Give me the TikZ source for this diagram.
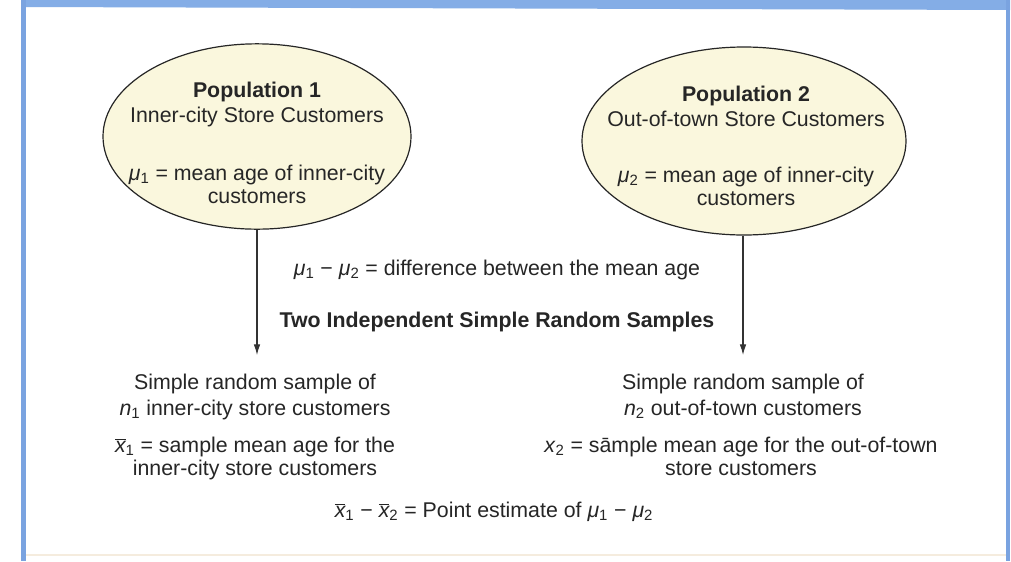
\documentclass[tikz,border=0pt]{standalone}
\usepackage{fontspec}
\setmainfont{Liberation Sans}
\usetikzlibrary{shapes.geometric,arrows.meta}

\definecolor{popfill}{RGB}{250,247,221}
\definecolor{frameblue}{RGB}{122,163,224}
\definecolor{bandblue}{RGB}{132,173,230}
\definecolor{txt}{RGB}{38,38,38}
\definecolor{rule}{RGB}{245,236,222}

% symbols in the sans text font
\newcommand{\gmu}[1]{\textit{μ}\textsubscript{#1}}
\newcommand{\xbar}[1]{$\overline{\mbox{\itshape x}}$\textsubscript{#1}}
\newcommand{\xvar}[1]{\textit{x}\textsubscript{#1}}
\newcommand{\nvar}[1]{\textit{n}\textsubscript{#1}}

\begin{document}
\begin{tikzpicture}[x=0.75pt,y=-0.75pt,
  font=\fontsize{16}{19}\selectfont,
  pop/.style={ellipse, draw=black!85, line width=0.9pt, fill=popfill, inner sep=0pt},
  lbl/.style={anchor=base, inner sep=0pt, text=txt},
  head/.style={lbl, font=\fontsize{16}{19}\selectfont\bfseries},
  link/.style={draw=black!80, line width=0.9pt, -{Latex[length=8pt,width=5pt]}}]
\useasboundingbox (0,0) rectangle (1011,561);
\fill[white] (0,0) rectangle (1011,561);

% page frame
\fill[bandblue] (22,0) -- (1010,0) -- (1010,10) -- (22,7) -- cycle;
\fill[frameblue] (21,0) rectangle (26,561);
\fill[frameblue] (1006,0) rectangle (1010,561);
\draw[rule, line width=1pt] (26,555) -- (1006,555);

% populations
\node[pop, minimum width=231pt, minimum height=139pt] (pop1) at (257,136.5) {};
\node[pop, minimum width=243pt, minimum height=141pt] (pop2) at (744,141) {};

\node[head] (p1title) at (257,97) {Population 1};
\node[lbl] (p1name) at (257,122) {Inner-city Store Customers};
\node[lbl] (p1mean) at (257,180) {\gmu{1} = mean age of inner-city};
\node[lbl] (p1meanb) at (257,203) {customers};

\node[head] (p2title) at (746,101) {Population 2};
\node[lbl] (p2name) at (746,126) {Out-of-town Store Customers};
\node[lbl] (p2mean) at (746,182) {\gmu{2} = mean age of inner-city};
\node[lbl] (p2meanb) at (746,205) {customers};

% centre captions
\node[lbl] (diff) at (497,275) {\gmu{1} − \gmu{2} = difference between the mean age};
\node[head] (twosrs) at (497,327) {Two Independent Simple Random Samples};

% sampling arrows
\coordinate (tip1) at (257,355);
\coordinate (tip2) at (743,355);
\draw[link] (tip1 |- pop1.south) -- (tip1);
\draw[link] (tip2 |- pop2.south) -- (tip2);

% samples
\node[lbl] (s1a) at (255,389) {Simple random sample of};
\node[lbl] (s1b) at (255,415) {\nvar{1} inner-city store customers};
\node[lbl] (s1c) at (255,452) {\xbar{1} = sample mean age for the};
\node[lbl] (s1d) at (255,475) {inner-city store customers};

\node[lbl] (s2a) at (743,389) {Simple random sample of};
\node[lbl] (s2b) at (743,415) {\nvar{2} out-of-town customers};
\node[lbl] (s2c) at (741,452) {\xvar{2} = sāmple mean age for the out-of-town};
\node[lbl] (s2d) at (741,475) {store customers};

% estimate
\node[lbl] (est) at (494,517) {\xbar{1} − \xbar{2} = Point estimate of \gmu{1} − \gmu{2}};
\end{tikzpicture}
\end{document}
